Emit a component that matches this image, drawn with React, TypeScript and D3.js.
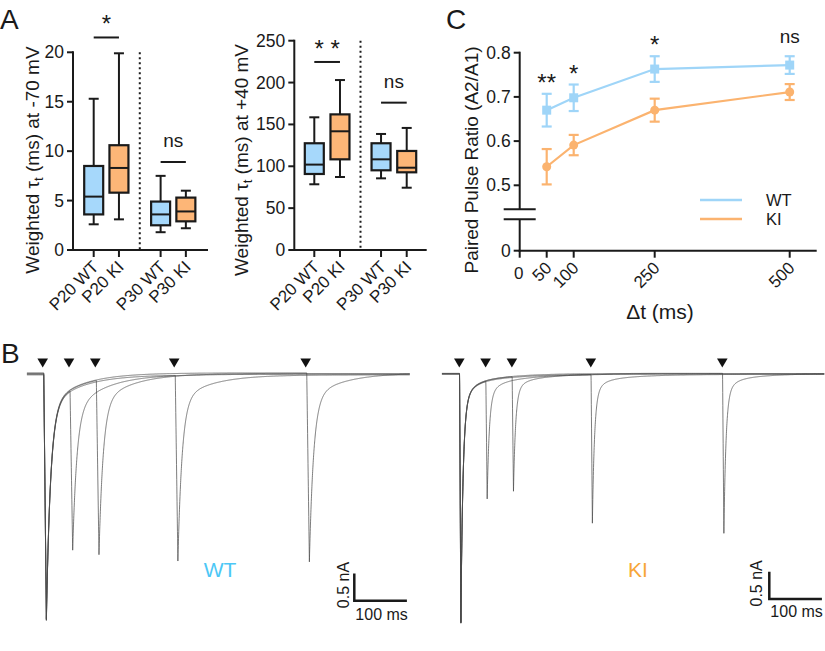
import React from 'react';
import * as d3 from 'd3';

// ---------- Panel A data ----------
const groups = ['P20 WT', 'P20 KI', 'P30 WT', 'P30 KI'];
const groupGenotype = ['WT', 'KI', 'WT', 'KI'];
// [min, q1, median, q3, max]
const tauNeg70 = [
  [2.6, 3.6, 5.4, 8.5, 15.3],
  [3.1, 5.8, 8.3, 10.6, 19.9],
  [1.8, 2.5, 3.6, 4.9, 7.5],
  [2.2, 2.9, 3.9, 5.3, 6.0],
];
const tauPos40 = [
  [78.5, 90.8, 102, 127.5, 158.5],
  [87.2, 108.3, 141.8, 162, 203],
  [85.6, 95.2, 108.3, 127.5, 138.6],
  [74.4, 92.8, 98.3, 118.3, 145.8],
];
const ticksNeg70 = [0, 5, 10, 15, 20];
const ticksPos40 = [0, 50, 100, 150, 200, 250];
const sigNeg70 = ['*', 'ns'];
const sigNeg70Level = [21.5, 8.9];
const sigPos40 = ['* *', 'ns'];
const sigPos40Level = [224.6, 176];

// ---------- Panel C data ----------
const pprIntervals = [50, 100, 250, 500];
const pprWT = [0.67, 0.698, 0.763, 0.772];
const pprWTsem = [0.037, 0.03, 0.029, 0.02];
const pprKI = [0.542, 0.591, 0.67, 0.711];
const pprKIsem = [0.04, 0.023, 0.026, 0.018];
const pprSig = ['**', '*', '*', 'ns'];
const pprYTicks = [0.5, 0.6, 0.7, 0.8];
const pprXTicks = [0, 50, 100, 250, 500];

// ---------- Panel B data ----------
const stimIntervals = [50, 100, 250, 500]; // ms
const wtPeak1 = 4.5; // nA
const wtPeak2 = [2.94, 3.2, 3.4, 3.46];
const wtBaseline = [0, 0.015, -0.01, 0.025];
const kiPeak1 = 4.56;
const kiPeak2 = [2.16, 2.1, 2.72, 2.93];
const kiBaseline = [0, 0.008, -0.006, 0.012];
const wtSpan = [-30, 698];
const kiSpan = [-33, 694];
const wtKinetics = { lat: 2, rise: 5, comps: [[0.86, 8], [0.14, 60]] };
const kiKinetics = { lat: 0.5, rise: 2.5, comps: [[0.85, 4], [0.1, 15], [0.05, 70]] };

const FONT = "'Liberation Sans', Arial, Helvetica, sans-serif";
const C_WT_FILL = '#a6d8fb';
const C_KI_FILL = '#fdb677';
const C_WT_LINE = '#9fd5f8';
const C_KI_LINE = '#fbb36f';
const C_WT_TEXT = '#4cc7f6';
const C_KI_TEXT = '#f7a638';
const INK = '#1a1a1a';

function BoxPanel(props: any) {
  const { data, ticks, yMax, yTop, x0, x1, centers0, gapPos, sig, sigLevel, divider, labelX, labelSuffix } = props;
  const y = d3.scaleLinear().domain([0, yMax]).range([250, yTop]);
  const pos = [0, 1, gapPos, gapPos + 1];
  const unit = centers0[1];
  const x = d3.scaleLinear().domain([0, 1]).range([centers0[0], centers0[0] + unit]);
  const bw = 19;
  const cap = 10;
  return (
    <g>
      <line x1={x(divider)} x2={x(divider)} y1={y(yMax)} y2={y(0)} stroke={INK} strokeWidth={2} strokeDasharray="2,3" />
      {data.map((d: number[], i: number) => {
        const cx = x(pos[i]);
        const fill = groupGenotype[i] === 'WT' ? C_WT_FILL : C_KI_FILL;
        return (
          <g key={i}>
            <line x1={cx} x2={cx} y1={y(d[3])} y2={y(d[4])} stroke={INK} strokeWidth={2} />
            <line x1={cx} x2={cx} y1={y(d[1])} y2={y(d[0])} stroke={INK} strokeWidth={2} />
            <line x1={cx - cap / 2} x2={cx + cap / 2} y1={y(d[4])} y2={y(d[4])} stroke={INK} strokeWidth={2} />
            <line x1={cx - cap / 2} x2={cx + cap / 2} y1={y(d[0])} y2={y(d[0])} stroke={INK} strokeWidth={2} />
            <rect x={cx - bw / 2} y={y(d[3])} width={bw} height={y(d[1]) - y(d[3])} fill={fill} stroke={INK} strokeWidth={2.2} />
            <line x1={cx - bw / 2} x2={cx + bw / 2} y1={y(d[2])} y2={y(d[2])} stroke={INK} strokeWidth={2} />
            <line x1={cx} x2={cx} y1={250} y2={257} stroke={INK} strokeWidth={2} />
            <text transform={`translate(${cx + 6},${268}) rotate(-45)`} textAnchor="end" fontSize={17} fontFamily={FONT} fill={INK}>{groups[i]}</text>
          </g>
        );
      })}
      <line x1={x0} x2={x0} y1={y(yMax) - 1} y2={y(0) + 1} stroke={INK} strokeWidth={2} />
      <line x1={x0 - 1} x2={x1} y1={y(0)} y2={y(0)} stroke={INK} strokeWidth={2} />
      {ticks.map((t: number) => (
        <g key={t}>
          <line x1={x0 - 6} x2={x0} y1={y(t)} y2={y(t)} stroke={INK} strokeWidth={2} />
          <text x={x0 - 9} y={y(t) + 6} textAnchor="end" fontSize={17.5} fontFamily={FONT} fill={INK}>{t}</text>
        </g>
      ))}
      {sig.map((s: string, k: number) => {
        const xa = x(pos[k * 2]);
        const xb = x(pos[k * 2 + 1]);
        const ly = y(sigLevel[k]);
        const star = s.includes('*');
        return (
          <g key={k}>
            <line x1={xa} x2={xb} y1={ly} y2={ly} stroke={INK} strokeWidth={2} />
            <text x={(xa + xb) / 2} y={star ? ly - 5 : ly - 15} textAnchor="middle" fontSize={star ? 24 : 19} fontFamily={FONT} fill={INK}>{s}</text>
          </g>
        );
      })}
      <text transform={`translate(${labelX},${160}) rotate(-90)`} textAnchor="middle" fontSize={19} fontFamily={FONT} fill={INK}>
        Weighted τ<tspan fontSize={13} dy={4}>t</tspan><tspan dy={-4}>{` (ms) at ${labelSuffix}`}</tspan>
      </text>
    </g>
  );
}

function PPRPanel() {
  const x = d3.scaleLinear().domain([0, 500]).range([519.7, 789.7]);
  const y = d3.scaleLinear().domain([0, 0.445, 0.4457, 0.8]).range([250.7, 219.3, 209.3, 52.7]);
  const ax = x(0);
  const line = d3.line<number>().x((_, i) => x(pprIntervals[i])).y((d) => y(d));
  const series = [
    { v: pprWT, e: pprWTsem, c: C_WT_LINE, m: 'sq' },
    { v: pprKI, e: pprKIsem, c: C_KI_LINE, m: 'ci' },
  ];
  return (
    <g>
      {series.map((s, si) => (
        <g key={si}>
          <path d={line(s.v) || ''} fill="none" stroke={s.c} strokeWidth={2.2} />
          {s.v.map((v, i) => {
            const cx = x(pprIntervals[i]);
            return (
              <g key={i}>
                <line x1={cx} x2={cx} y1={y(v + s.e[i])} y2={y(v - s.e[i])} stroke={s.c} strokeWidth={2.2} />
                <line x1={cx - 5} x2={cx + 5} y1={y(v + s.e[i])} y2={y(v + s.e[i])} stroke={s.c} strokeWidth={2.2} />
                <line x1={cx - 5} x2={cx + 5} y1={y(v - s.e[i])} y2={y(v - s.e[i])} stroke={s.c} strokeWidth={2.2} />
                {s.m === 'sq' ? (
                  <rect x={cx - 4.5} y={y(v) - 4.5} width={9} height={9} fill={s.c} />
                ) : (
                  <circle cx={cx} cy={y(v)} r={4.5} fill={s.c} />
                )}
              </g>
            );
          })}
        </g>
      ))}
      {pprSig.map((s, i) => {
        const top = y(pprWT[i] + pprWTsem[i]);
        const star = s.includes('*');
        return (
          <text key={i} x={x(pprIntervals[i])} y={star ? top - 3 : top - 13} textAnchor="middle" fontSize={star ? 24 : 19} fontFamily={FONT} fill={INK}>{s}</text>
        );
      })}
      <line x1={ax} x2={ax} y1={y(0.8) - 1} y2={y(0.4457)} stroke={INK} strokeWidth={2} />
      <line x1={ax} x2={ax} y1={y(0.445)} y2={y(0) + 1} stroke={INK} strokeWidth={2} />
      <line x1={ax - 16} x2={ax + 16} y1={y(0.4457)} y2={y(0.4457)} stroke={INK} strokeWidth={2} />
      <line x1={ax - 16} x2={ax + 16} y1={y(0.445)} y2={y(0.445)} stroke={INK} strokeWidth={2} />
      <line x1={ax - 1} x2={816.7} y1={y(0)} y2={y(0)} stroke={INK} strokeWidth={2} />
      {[0, ...pprYTicks].map((t) => (
        <g key={t}>
          <line x1={ax - 6} x2={ax} y1={y(t)} y2={y(t)} stroke={INK} strokeWidth={2} />
          <text x={ax - 9} y={y(t) + 6} textAnchor="end" fontSize={17.5} fontFamily={FONT} fill={INK}>{t}</text>
        </g>
      ))}
      {pprXTicks.map((t) => (
        <g key={t}>
          <line x1={x(t)} x2={x(t)} y1={y(0)} y2={y(0) + 7} stroke={INK} strokeWidth={2} />
          {t === 0 ? (
            <text x={x(t) - 1} y={279} textAnchor="middle" fontSize={17} fontFamily={FONT} fill={INK}>{t}</text>
          ) : (
            <text transform={`translate(${x(t) + 6},${269}) rotate(-45)`} textAnchor="end" fontSize={17} fontFamily={FONT} fill={INK}>{t}</text>
          )}
        </g>
      ))}
      <text x={660} y={319} textAnchor="middle" fontSize={21} fontFamily={FONT} fill={INK}>Δt (ms)</text>
      <text transform={`translate(478,160) rotate(-90)`} textAnchor="middle" fontSize={19} fontFamily={FONT} fill={INK}>Paired Pulse Ratio (A2/A1)</text>
      <line x1={700} x2={742} y1={200} y2={200} stroke={C_WT_LINE} strokeWidth={2.5} />
      <line x1={700} x2={742} y1={219} y2={219} stroke={C_KI_LINE} strokeWidth={2.5} />
      <text x={766} y={205.5} fontSize={16.5} fontFamily={FONT} fill={INK}>WT</text>
      <text x={766} y={224.5} fontSize={16.5} fontFamily={FONT} fill={INK}>KI</text>
    </g>
  );
}

function kernel(s: number, k: any) {
  if (s < 0) return 0;
  if (s < k.rise) return s / k.rise;
  const u = s - k.rise;
  return k.comps.reduce((a: number, c: number[]) => a + c[0] * Math.exp(-u / c[1]), 0);
}

function TracePanel(props: any) {
  const { stimX, baseY, span, peak1, peak2, base, kin, label, labelColor, labelX, barX, barBaseY, nALabelX, msLabelY } = props;
  const pxPerMs = 0.526;
  const pxPerNA = 54.6;
  const x = d3.scaleLinear().domain([0, 100]).range([stimX, stimX + 100 * pxPerMs]);
  const y = d3.scaleLinear().domain([0, -1]).range([baseY, baseY + pxPerNA]);
  const line = d3.line<number[]>().x((d) => x(d[0])).y((d) => y(d[1]));
  const step = 0.2;
  const traces = stimIntervals.map((dt, i) => {
    const pts: number[][] = [];
    for (let t = span[0]; t <= span[1]; t += step) {
      const v = base[i] - peak1 * kernel(t - kin.lat, kin) - peak2[i] * kernel(t - dt - kin.lat, kin);
      pts.push([t, v]);
    }
    return line(pts) || '';
  });
  const stims = [0, ...stimIntervals];
  const barLenMs = 100;
  const barNA = 0.5;
  const bx1 = barX + (x(barLenMs) - x(0));
  const byTop = barBaseY - (y(-barNA) - y(0));
  return (
    <g>
      {traces.map((d, i) => (
        <path key={i} d={d} fill="none" stroke="#4a4a4a" strokeWidth={0.9} strokeOpacity={0.8} />
      ))}
      {stims.map((t, i) => {
        const cx = x(t);
        return <path key={i} d={`M${cx - 5.3},358.5 L${cx + 5.3},358.5 L${cx},367.5 Z`} fill="#111" />;
      })}
      <text x={labelX} y={576.5} textAnchor="middle" fontSize={21} fontFamily={FONT} fill={labelColor}>{label}</text>
      <path d={`M${barX},${byTop} L${barX},${barBaseY} L${bx1},${barBaseY}`} fill="none" stroke={INK} strokeWidth={2.5} />
      <text transform={`translate(${nALabelX},${(byTop + barBaseY) / 2 - 2}) rotate(-90)`} textAnchor="middle" fontSize={16} fontFamily={FONT} fill={INK}>0.5 nA</text>
      <text x={(barX + bx1) / 2 + 1} y={msLabelY} textAnchor="middle" fontSize={16} fontFamily={FONT} fill={INK}>100 ms</text>
    </g>
  );
}

export default function App() {
  return (
    <svg width={825} height={651} style={{ position: 'absolute', left: 0, top: 0, background: '#fff' }}>
      <rect width={825} height={651} fill="#fff" />
      <text x={0} y={28.5} fontSize={28} fontFamily={FONT} fill={INK}>A</text>
      <text x={446} y={28.5} fontSize={28} fontFamily={FONT} fill={INK}>C</text>
      <text x={1} y={363} fontSize={28} fontFamily={FONT} fill={INK}>B</text>
      <BoxPanel data={tauNeg70} ticks={ticksNeg70} yMax={20} yTop={52.3} x0={73} x1={208}
        centers0={[93.7, 25.25]} gapPos={2.65} sig={sigNeg70} sigLevel={sigNeg70Level} divider={1.825}
        labelX={39} labelSuffix="-70 mV" />
      <BoxPanel data={tauPos40} ticks={ticksPos40} yMax={250} yTop={40.7} x0={294.3} x1={426.7}
        centers0={[314.3, 25.67]} gapPos={2.6} sig={sigPos40} sigLevel={sigPos40Level} divider={1.8}
        labelX={248} labelSuffix="+40 mV" />
      <PPRPanel />
      <TracePanel stimX={42.7} baseY={374.3} span={wtSpan} peak1={wtPeak1} peak2={wtPeak2} base={wtBaseline}
        kin={wtKinetics} label="WT" labelColor={C_WT_TEXT} labelX={220} barX={354.3} barBaseY={600.7}
        nALabelX={348.5} msLabelY={620} />
      <TracePanel stimX={459.3} baseY={374} span={kiSpan} peak1={kiPeak1} peak2={kiPeak2} base={kiBaseline}
        kin={kiKinetics} label="KI" labelColor={C_KI_TEXT} labelX={638} barX={769.3} barBaseY={599}
        nALabelX={762} msLabelY={617} />
    </svg>
  );
}
